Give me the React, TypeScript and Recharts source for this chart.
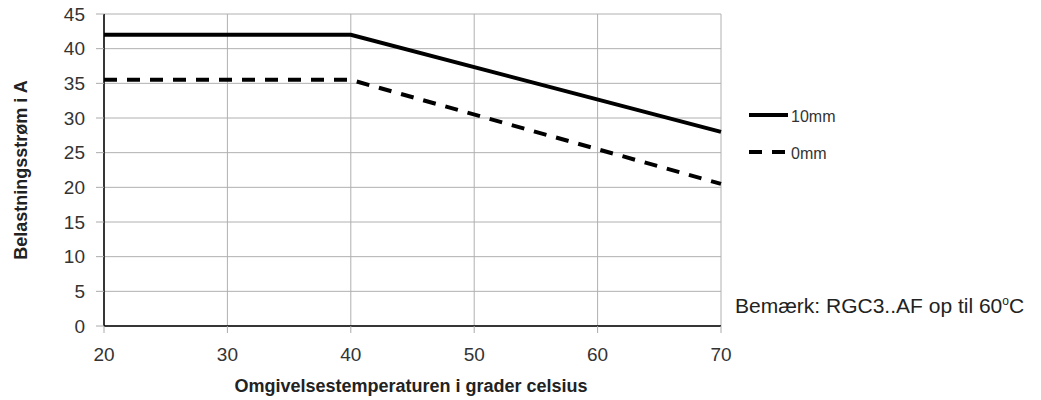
import { LineChart, Line, XAxis, YAxis, CartesianGrid } from "recharts";

// ambient temperature (°C) and load current (A)
const temps = [20, 40, 70];
const load10mm = [42, 42, 28];
const load0mm = [35.5, 35.5, 20.5];

const xTicks = [20, 30, 40, 50, 60, 70];
const yTicks = [0, 5, 10, 15, 20, 25, 30, 35, 40, 45];

const seriesNames = ["10mm", "0mm"];
const dashes = ["", "13 10"];

const data = temps.map((t, i) => ({ t, mm10: load10mm[i], mm0: load0mm[i] }));

const tickFont = { fill: "#333", fontSize: 19, fontFamily: "'Liberation Sans', sans-serif" };

const App = () => (
  <div style={{ position: "absolute", left: 0, top: 0 }}>
    <LineChart width={1041} height={400} data={data} margin={{ top: 14, right: 320, bottom: 0, left: 0 }}>
      <CartesianGrid stroke="#b0b0b0" strokeWidth={1} />
      <XAxis
        type="number"
        dataKey="t"
        domain={[20, 70]}
        ticks={xTicks}
        height={74}
        axisLine={{ stroke: "#000", strokeWidth: 1.5 }}
        tickLine={{ stroke: "#aaa" }}
        tickSize={7}
        tickMargin={15}
        tick={tickFont}
      />
      <YAxis
        type="number"
        domain={[0, 45]}
        ticks={yTicks}
        width={104}
        axisLine={{ stroke: "#000", strokeWidth: 1.5 }}
        tickLine={{ stroke: "#aaa" }}
        tickSize={8}
        tickMargin={11}
        tick={tickFont}
      />
      <Line dataKey="mm10" name={seriesNames[0]} stroke="#000" strokeWidth={4} dot={false} isAnimationActive={false} />
      <Line dataKey="mm0" name={seriesNames[1]} stroke="#000" strokeWidth={4} strokeDasharray={dashes[1]} dot={false} isAnimationActive={false} />

      <text
        x={21}
        y={170}
        transform="rotate(-90 21 170)"
        textAnchor="middle"
        dominantBaseline="central"
        fontFamily="'Liberation Sans', Arial, sans-serif"
        fontWeight="bold"
        fontSize={18}
        fill="#222"
      >
        Belastningsstrøm i A
      </text>
      <text
        x={411}
        y={392}
        textAnchor="middle"
        fontFamily="'Liberation Sans', Arial, sans-serif"
        fontWeight="bold"
        fontSize={18}
        fill="#222"
      >
        Omgivelsestemperaturen i grader celsius
      </text>

      {seriesNames.map((name, i) => (
        <g key={name}>
          <line x1={749} x2={788} y1={115 + i * 37} y2={115 + i * 37} stroke="#000" strokeWidth={4} strokeDasharray={dashes[i] || undefined} />
          <text
            x={791}
            y={116 + i * 37}
            dominantBaseline="central"
            fontFamily="'Liberation Sans', sans-serif"
            fontSize={16}
            fill="#333"
          >
            {name}
          </text>
        </g>
      ))}

      <text x={735} y={313} fontFamily="'Liberation Sans', Arial, sans-serif" fontSize={21} fill="#222">
        Bemærk: RGC3..AF op til 60
        <tspan fontSize={12} dy={-8}>o</tspan>
        <tspan dy={8}>C</tspan>
      </text>
    </LineChart>
  </div>
);

export default App;
